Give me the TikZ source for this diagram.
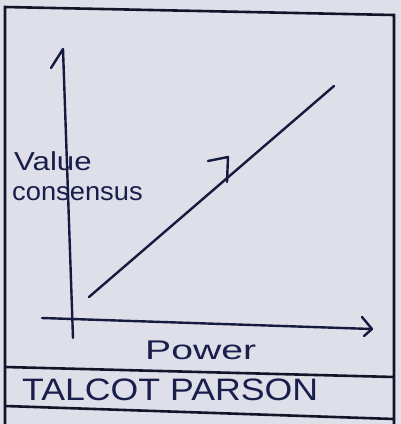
\documentclass[tikz,border=0pt]{standalone}
\usepackage{fontspec}
\setmainfont{Liberation Sans}
\definecolor{paper}{RGB}{222,223,233}
\definecolor{inkc}{RGB}{22,26,62}
\definecolor{framec}{RGB}{20,20,40}
\definecolor{textc}{RGB}{25,30,75}
\begin{document}
\begin{tikzpicture}[x=1pt,y=-1pt,
  ink/.style={draw=inkc,line width=2.4pt,line cap=round,line join=round},
  frame/.style={draw=framec,line width=2.6pt},
  hand/.style={text=textc,inner sep=0pt,anchor=west}]
\fill[paper] (0,0) rectangle (401,424);
\useasboundingbox (0,0) rectangle (401,424);
% frame
\coordinate (tl) at (5,7);
\coordinate (tr) at (394,15);
\coordinate (bl) at (5,424);
\coordinate (br) at (394,424);
\draw[frame] (bl) -- (tl) -- (tr) -- (br);
\coordinate (r1l) at (5,367);
\coordinate (r1r) at (394,377);
\coordinate (r2l) at (5,406);
\coordinate (r2r) at (394,419);
\draw[frame] (r1l) -- (r1r);
\draw[frame] (r2l) -- (r2r);
% axes
\coordinate (ytop) at (63,49);
\coordinate (yhook) at (51,68);
\coordinate (ybot) at (73,338);
\draw[ink] (yhook) -- (ytop) -- (ybot);
\coordinate (xl) at (42,318);
\coordinate (xr) at (372,329);
\draw[ink] (xl) -- (xr);
\coordinate (xa1) at (362,317);
\coordinate (xa2) at (364,336);
\draw[ink] (xa1) -- (xr) -- (xa2);
% trend line
\coordinate (d1) at (89,297);
\coordinate (d2) at (334,86);
\draw[ink] (d1) -- (d2);
\coordinate (c1) at (208,161);
\coordinate (cv) at (228,157);
\coordinate (c2) at (227,182);
\draw[ink] (c1) -- (cv) -- (c2);
% labels
\node[hand,font=\fontsize{26}{28}\selectfont] (val) at (14,161) {\scalebox{1.2}[1]{Value}};
\node[hand,font=\fontsize{26}{28}\selectfont] (con) at (12,194) {\scalebox{1.05}[1]{consensus}};
\node[hand,font=\fontsize{27}{29}\selectfont] (pow) at (145,350) {\scalebox{1.45}[1]{Power}};
\node[hand,font=\fontsize{31}{33}\selectfont] (tal) at (22,390) {\scalebox{1.15}[1]{TALCOT PARSON}};
\end{tikzpicture}
\end{document}
